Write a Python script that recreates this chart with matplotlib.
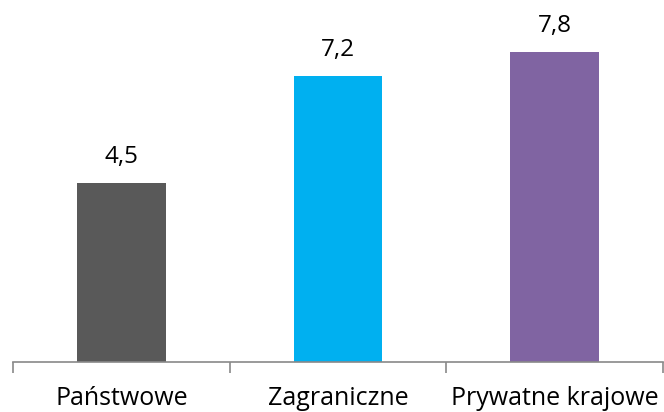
import matplotlib
matplotlib.use("Agg")
import matplotlib.pyplot as plt

categories = ["Państwowe", "Zagraniczne", "Prywatne krajowe"]
values = [4.5, 7.2, 7.8]
value_labels = ["4,5", "7,2", "7,8"]
colors = ["#595959", "#00b0f0", "#8064a2"]

plt.rcParams['font.family'] = ['Open Sans', 'DejaVu Sans']

fig = plt.figure(figsize=(6.64, 4.12), dpi=100)
ax = fig.add_axes([13 / 664, 50 / 412, 650 / 664, 362 / 412])

x = range(len(categories))
bars = ax.bar(x, values, width=0.41, color=colors)

for b, lab in zip(bars, value_labels):
    ax.annotate(lab, (b.get_x() + b.get_width() / 2, b.get_height()),
                xytext=(0, 10), textcoords='offset points',
                ha='center', va='bottom', fontsize=17.5, color='black')

ax.set_xlim(-0.5, 2.5)
ax.set_ylim(0, 9.1)
ax.set_xticks(list(x))
ax.set_xticklabels(categories, fontsize=18)
ax.tick_params(axis='x', which='major', length=0, pad=17)
ax.set_xticks([-0.5, 0.5, 1.5, 2.5], minor=True)
ax.tick_params(axis='x', which='minor', length=8, color='#898989', width=1.2)
ax.set_yticks([])
for s in ['top', 'right', 'left']:
    ax.spines[s].set_visible(False)
ax.spines['bottom'].set_color('#898989')
ax.spines['bottom'].set_linewidth(1.2)

fig.savefig("out.png", dpi=100)
